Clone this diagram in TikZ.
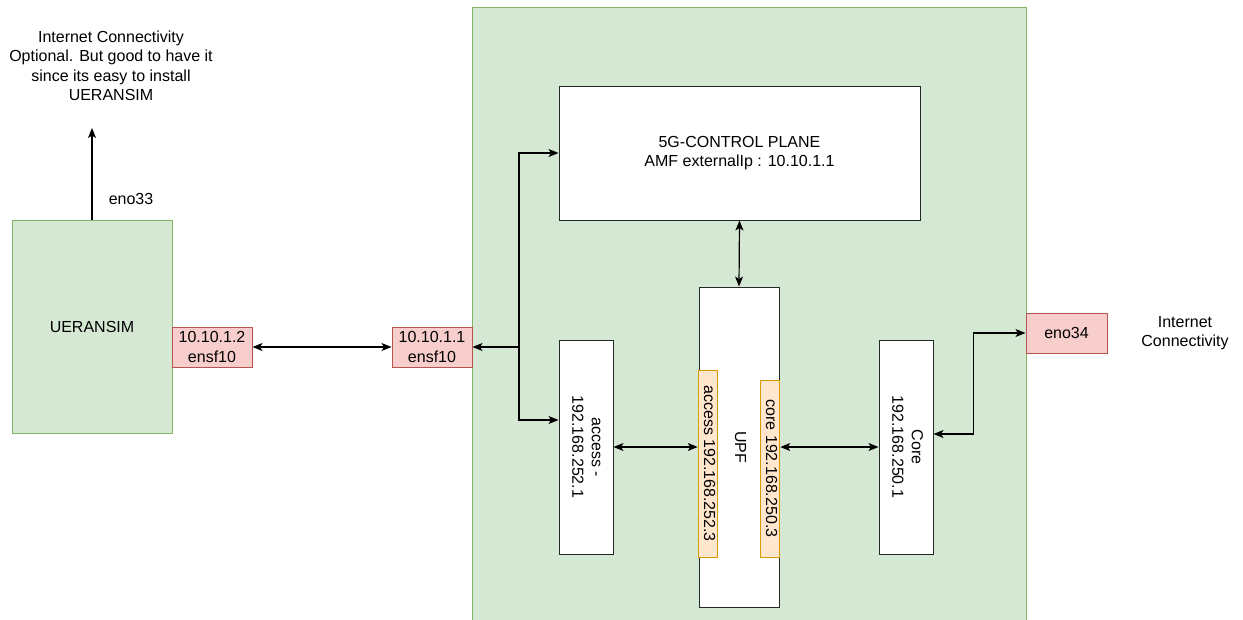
\documentclass[tikz,border=0pt]{standalone}
\usepackage{fontspec}
\setmainfont{Liberation Sans}
\usetikzlibrary{arrows.meta}

\definecolor{gfill}{HTML}{D5E8D4}
\definecolor{gline}{HTML}{82B366}
\definecolor{pfill}{HTML}{F8CECC}
\definecolor{pline}{HTML}{B85450}
\definecolor{ofill}{HTML}{FFE6CC}
\definecolor{oline}{HTML}{D79B00}

% testo verticale, letto dall'alto in basso
\newcommand{\vlabel}[1]{\rotatebox{-90}{\begin{tabular}{@{}c@{}}#1\end{tabular}}}

\begin{document}
\begin{tikzpicture}[x=1pt,y=-1pt,
  font=\fontsize{16}{19.5}\selectfont,
  >={Stealth[length=10pt,width=8pt,inset=2.5pt]},
  box/.style={draw=black!85,fill=white,line width=1pt,inner sep=0pt,align=center},
  hostbox/.style={draw=gline,fill=gfill,line width=1pt,inner sep=0pt,align=center},
  ifbox/.style={draw=pline,fill=pfill,line width=1pt,inner sep=0pt,align=center,
    minimum width=80pt,minimum height=40pt},
  portbox/.style={draw=oline,fill=ofill,line width=1pt,inner sep=0pt,minimum width=18pt},
  link/.style={line width=1.2pt}]
  \clip (0,0) rectangle (1243,619);
  % Server 5G (sfondo)
  \fill[gfill] (472,7) rectangle (1026,640);
  \draw[gline,line width=1pt] (472,640) |- (1026,7) -- (1026,640);
  % Nodo UERANSIM
  \node[hostbox,minimum width=160pt,minimum height=213pt] (ue) at (92,326.5) {UERANSIM};
  \node[ifbox] (ueif) at (212,347) {10.10.1.2\\ensf10};
  \node[align=center] (inet1) at (111,66)
    {Internet Connectivity\\Optional. But good to have it\\since its easy to install\\UERANSIM};
  \node (eno33) at (131,199) {eno33};
  \coordinate (ueup) at (92,128);
  % Interfacce del server
  \node[ifbox] (cpif) at (432,347) {10.10.1.1\\ensf10};
  \node[ifbox,minimum width=81pt] (inetif) at (1066.5,333) {eno34};
  \node[align=center] (inet2) at (1185,333) {Internet\\Connectivity};
  % Piano di controllo e UPF
  \node[box,minimum width=361pt,minimum height=134pt] (cp) at (739.5,153)
    {5G-CONTROL PLANE\\AMF externalIp : 10.10.1.1};
  \node[box,minimum width=80pt,minimum height=320pt] (upf) at (739,447) {\vlabel{UPF}};
  \node[portbox,minimum height=187pt] (upfacc) at (708,463.5) {\vlabel{access 192.168.252.3}};
  \node[portbox,minimum height=177pt] (upfcore) at (770,468.5) {\vlabel{core 192.168.250.3}};
  \node[box,minimum width=54pt,minimum height=214pt] (access) at (586,447)
    {\vlabel{access -\\192.168.252.1}};
  \node[box,minimum width=54pt,minimum height=214pt] (core) at (906,447)
    {\vlabel{Core\\192.168.250.1}};
  % Collegamenti
  \draw[link,->] (ue.north) -- (ueup);
  \draw[link,<->] (ueif.east) -- (cpif.west);
  \coordinate (split) at (519,347);
  \draw[link,->] (split) -- (cpif.east);
  \draw[link,->] (split) |- (cp.west);
  \draw[link,->] (split) |- ([yshift=27pt]access.west);
  \draw[link,<->] (cp.south) -- (upf.north);
  \draw[link,<->] (access.east) -- (upfacc.west |- access.east);
  \draw[link,<->] (upfcore.east |- core.west) -- (core.west);
  \draw[link,<->] ([yshift=13pt]core.east) -- ++(40,0) |- (inetif.west);
\end{tikzpicture}
\end{document}
